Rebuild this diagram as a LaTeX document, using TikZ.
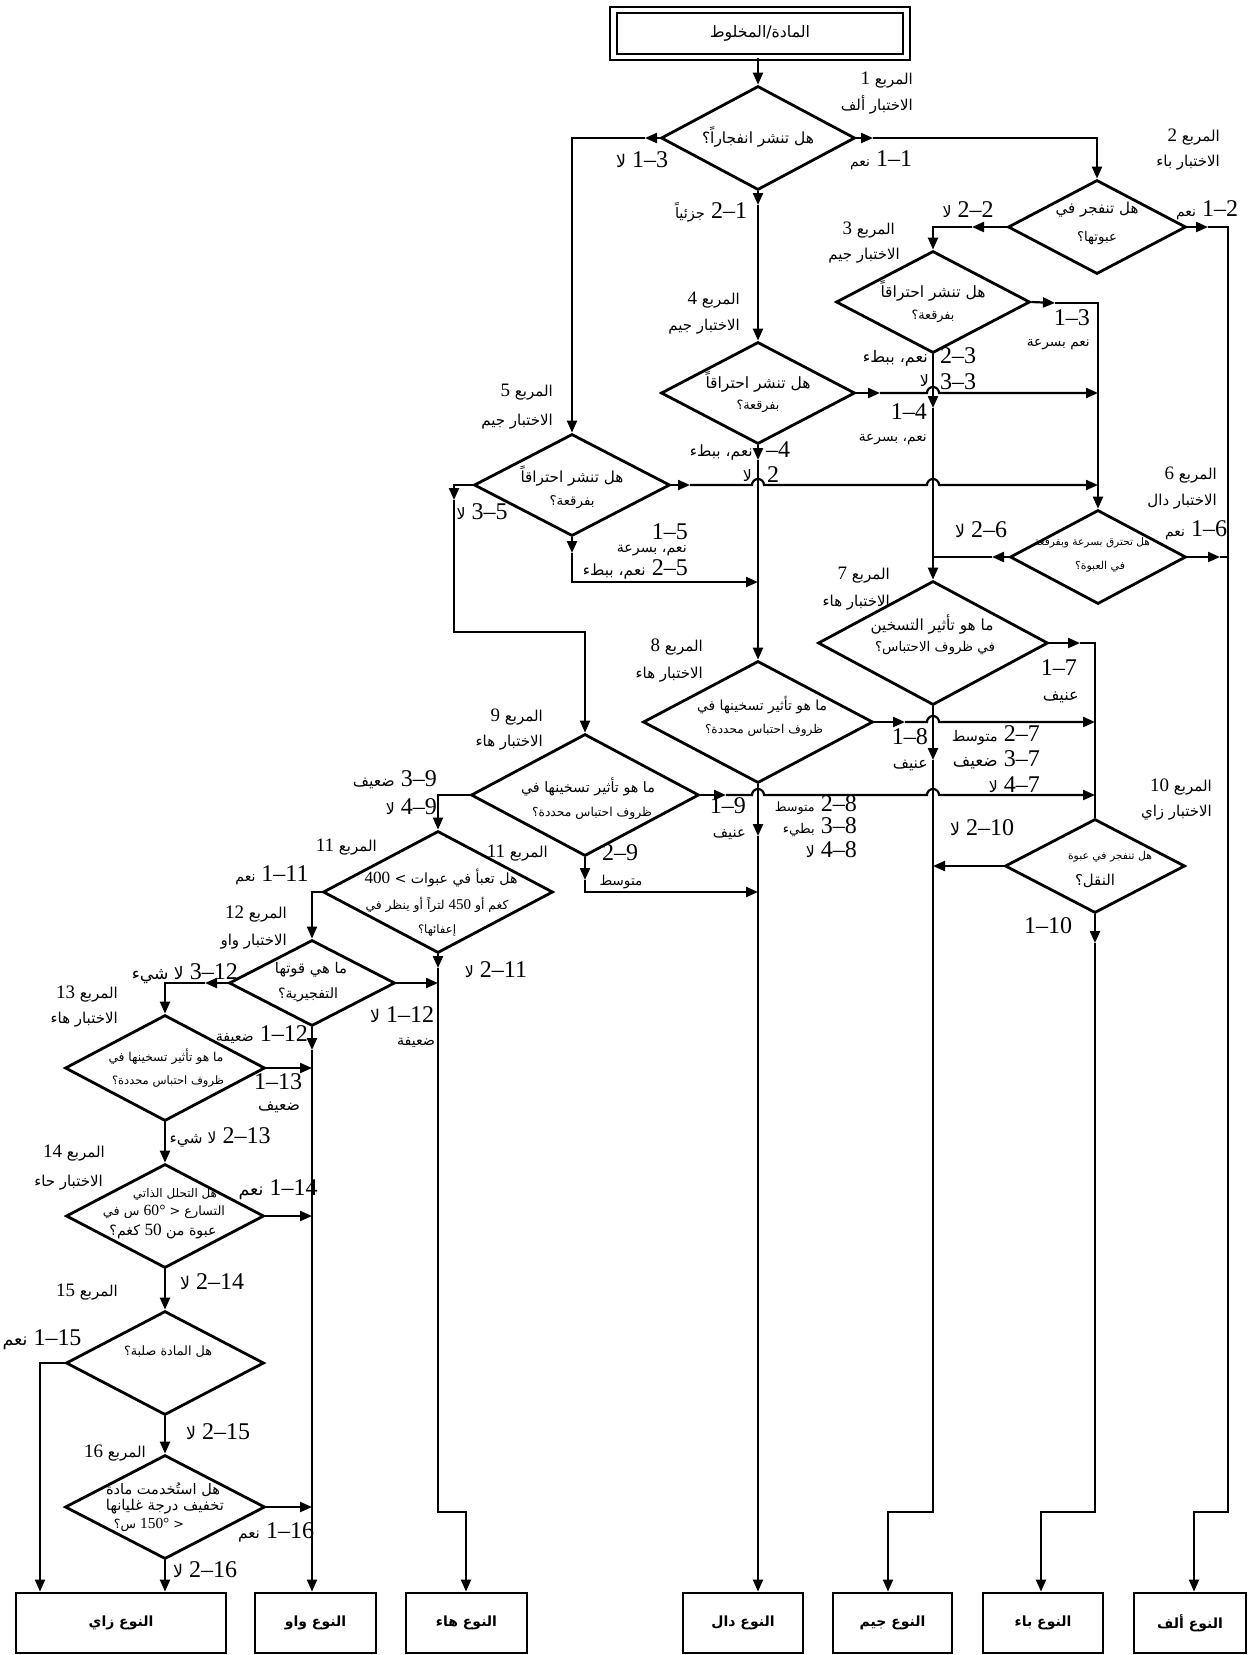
\documentclass[tikz,border=0pt]{standalone}
\usepackage{graphicx}
\usepackage{fontspec}
\setmainfont{Liberation Serif}
\newfontfamily\arfont[Script=Arabic]{DejaVu Sans}
\TeXXeTstate=1
\usetikzlibrary{shapes.geometric,arrows.meta}
\newcommand{\aw}[2]{\resizebox{#1}{!}{\arfont #2}}
\newcommand{\rw}[2]{\resizebox{#1}{!}{#2}}
\newcommand{\dn}[1]{{\rmfamily\fontsize{17}{17}\selectfont #1}}
\newcommand{\bn}[1]{{\rmfamily\fontsize{19}{19}\selectfont #1}}
\begin{document}
\begin{tikzpicture}[x=1pt,y=-1pt,
 ln/.style={line width=2.2pt},
 arr/.style={line width=2.2pt,-{Triangle[length=12pt,width=10pt]}},
 dia/.style={diamond,draw,line width=2.8pt,inner sep=0pt},
 dl/.style={inner sep=0pt,font=\arfont\fontsize{14}{14}\selectfont},
 el/.style={inner sep=0pt,font=\fontsize{24}{25}\selectfont},
 bl/.style={inner sep=0pt,anchor=east,font=\arfont\fontsize{15}{15}\selectfont},
 tbox/.style={draw,line width=2.8pt,minimum height=60pt,inner sep=0pt,font=\arfont\bfseries\fontsize{14}{16}\selectfont}]
\useasboundingbox (0,0) rectangle (1248,1655);
% ---------- source box
\node[draw,double,double distance=4.5pt,line width=2.2pt,minimum width=293pt,minimum height=47pt,inner sep=0pt] (src) at (760,33.5) {\aw{100pt}{\beginR المادة/المخلوط\endR}};
% ---------- diamonds
\node[dia,minimum width=194pt,minimum height=104pt] (d1) at (758,138) {};
\node[dia,minimum width=178pt,minimum height=94pt] (d2) at (1097,227) {};
\node[dia,minimum width=194pt,minimum height=102pt] (d3) at (933,302) {};
\node[dia,minimum width=194pt,minimum height=102pt] (d4) at (758,393) {};
\node[dia,minimum width=196pt,minimum height=102pt] (d5) at (572,485) {};
\node[dia,minimum width=176pt,minimum height=94pt] (d6) at (1098,557) {};
\node[dia,minimum width=230pt,minimum height=124pt] (d7) at (933,643) {};
\node[dia,minimum width=230pt,minimum height=122pt] (d8) at (758,722) {};
\node[dia,minimum width=228pt,minimum height=122pt] (d9) at (585,795) {};
\node[dia,minimum width=180pt,minimum height=94pt] (d10) at (1095,866) {};
\node[dia,minimum width=230pt,minimum height=122pt] (d11) at (438,892) {};
\node[dia,minimum width=166pt,minimum height=86pt] (d12) at (312,983) {};
\node[dia,minimum width=200pt,minimum height=106pt] (d13) at (165,1068) {};
\node[dia,minimum width=198pt,minimum height=104pt] (d14) at (165,1216) {};
\node[dia,minimum width=198pt,minimum height=104pt] (d15) at (165,1363) {};
\node[dia,minimum width=200pt,minimum height=104pt] (d16) at (165,1507) {};
% ---------- diamond texts (one node per line)
\node[dl] (q1) at (758,137) {\aw{112pt}{\beginR هل تنشر انفجاراً؟\endR}};
\node[dl] (q2a) at (1097,210) {\aw{83pt}{\beginR هل تنفجر في\endR}};
\node[dl] (q2b) at (1097,238) {\aw{40pt}{\beginR عبوتها؟\endR}};
\node[dl] (q3a) at (933,291) {\aw{105pt}{\beginR هل تنشر احتراقاً\endR}};
\node[dl] (q3b) at (933,316) {\aw{43pt}{\beginR بفرقعة؟\endR}};
\node[dl] (q4a) at (758,382) {\aw{105pt}{\beginR هل تنشر احتراقاً\endR}};
\node[dl] (q4b) at (758,406) {\aw{43pt}{\beginR بفرقعة؟\endR}};
\node[dl] (q5a) at (572,476) {\aw{103pt}{\beginR هل تنشر احتراقاً\endR}};
\node[dl] (q5b) at (572,502) {\aw{45pt}{\beginR بفرقعة؟\endR}};
\node[dl] (q6a) at (1092,543) {\aw{116pt}{\beginR هل تحترق بسرعة وبفرقعة\endR}};
\node[dl] (q6b) at (1100,567) {\aw{50pt}{\beginR في العبوة؟\endR}};
\node[dl] (q7a) at (932,624) {\aw{123pt}{\beginR ما هو تأثير التسخين\endR}};
\node[dl] (q7b) at (935,648) {\aw{120pt}{\beginR في ظروف الاحتباس؟\endR}};
\node[dl] (q8a) at (762,705) {\aw{130pt}{\beginR ما هو تأثير تسخينها في\endR}};
\node[dl] (q8b) at (764,730) {\aw{118pt}{\beginR ظروف احتباس محددة؟\endR}};
\node[dl] (q9a) at (588,787) {\aw{134pt}{\beginR ما هو تأثير تسخينها في\endR}};
\node[dl] (q9b) at (592,813) {\aw{120pt}{\beginR ظروف احتباس محددة؟\endR}};
\node[dl] (q10a) at (1110,857) {\aw{84pt}{\beginR هل تنفجر في عبوة\endR}};
\node[dl] (q10b) at (1095,881) {\aw{40pt}{\beginR النقل؟\endR}};
\node[dl] (q11a) at (441,878) {\rw{153pt}{\dn{400} > {\arfont\beginR هل تعبأ في عبوات\endR}}};
\node[dl] (q11b) at (437,905) {\rw{143pt}{{\arfont\beginR لتراً أو ينظر في\endR} \dn{450} {\arfont\beginR كغم أو\endR}}};
\node[dl] (q11c) at (437,930) {\aw{38pt}{\beginR إعفائها؟\endR}};
\node[dl] (q12a) at (311,970) {\aw{72pt}{\beginR ما هي قوتها\endR}};
\node[dl] (q12b) at (308,995) {\aw{60pt}{\beginR التفجيرية؟\endR}};
\node[dl] (q13a) at (166,1057) {\aw{115pt}{\beginR ما هو تأثير تسخينها في\endR}};
\node[dl] (q13b) at (168,1082) {\aw{112pt}{\beginR ظروف احتباس محددة؟\endR}};
\node[dl] (q14a) at (175,1194) {\aw{84pt}{\beginR هل التحلل الذاتي\endR}};
\node[dl] (q14b) at (164,1212) {\rw{122pt}{{\arfont\beginR س في\endR} \dn{60°} < {\arfont\beginR التسارع\endR}}};
\node[dl] (q14c) at (163,1231) {\rw{107pt}{{\arfont\beginR كغم؟\endR} \dn{50} {\arfont\beginR عبوة من\endR}}};
\node[dl] (q15) at (168,1352) {\aw{88pt}{\beginR هل المادة صلبة؟\endR}};
\node[dl] (q16a) at (163,1490) {\aw{114pt}{\beginR هل استُخدمت مادة\endR}};
\node[dl] (q16b) at (165,1507) {\aw{118pt}{\beginR تخفيف درجة غليانها\endR}};
\node[dl] (q16c) at (149,1525) {\rw{70pt}{{\arfont\beginR س؟\endR} \dn{150°} <}};
% ---------- type boxes
\node[tbox,minimum width=210pt] (tG) at (121,1623) {\beginR النوع زاي\endR};
\node[tbox,minimum width=121pt] (tF) at (315.5,1623) {\beginR النوع واو\endR};
\node[tbox,minimum width=121pt] (tE) at (466.5,1623) {\beginR النوع هاء\endR};
\node[tbox,minimum width=120pt] (tD) at (743,1623) {\beginR النوع دال\endR};
\node[tbox,minimum width=119pt] (tC) at (892.5,1623) {\beginR النوع جيم\endR};
\node[tbox,minimum width=120pt] (tB) at (1043,1623) {\beginR النوع باء\endR};
\node[tbox,minimum width=112pt] (tA) at (1190,1623) {\beginR النوع ألف\endR};
% ---------- helper coordinates
\coordinate (c1l) at (645,138);
\coordinate (c1r) at (873,138);
\coordinate (c1b) at (758,205);
\coordinate (c2r) at (1208,227);
\coordinate (vA) at (1228,227);
\coordinate (jA) at (1194,1512);
\coordinate (c2l) at (972,227);
\coordinate (c3r) at (1055,303);
\coordinate (c3b) at (933,408);
\coordinate (c4r) at (880,393);
\coordinate (c4b) at (758,460);
\coordinate (c5r) at (690,485);
\coordinate (c5l) at (454,500);
\coordinate (c5j) at (585,632);
\coordinate (c5b) at (572,553);
\coordinate (c6l) at (992,557);
\coordinate (c6r) at (1220,557);
\coordinate (c7r) at (1080,643);
\coordinate (c7b) at (933,760);
\coordinate (jC) at (888,1512);
\coordinate (c8r) at (905,722);
\coordinate (c8b) at (758,836);
\coordinate (c9r) at (726,795);
\coordinate (c9b) at (585,880);
\coordinate (c10b) at (1095,943);
\coordinate (jB) at (1041,1512);
\coordinate (c11b) at (438,968);
\coordinate (jE) at (466,1512);
\coordinate (c12b) at (312,1050);
\coordinate (c12l) at (205,983);
\coordinate (c15l) at (40,1363);
% ---------- connectors
\draw[arr] (src.south -| d1.north) -- (d1.north);
\draw[arr] (d1.west) -- (c1l);
\draw[arr] (c1l) -| (d5.north);
\draw[arr] (d1.east) -- (c1r);
\draw[arr] (c1r) -| (d2.north);
\draw[arr] (d1.south) -- (c1b);
\draw[arr] (c1b) -- (d4.north);
\draw[arr] (d2.east) -- (c2r);
\draw[arr] (c2r) -- (vA) -- (vA |- jA) -- (jA) -- (jA |- tA.north);
\draw[arr] (d2.west) -- (c2l);
\draw[arr] (c2l) -| (d3.north);
\draw[arr] (d3.east) -- (c3r);
\draw[arr] (c3r) -| (d6.north);
\draw[arr] (d3.south) -- (c3b);
\draw[arr] (c3b) -- (d7.north);
\draw[arr] (d4.east) -- (c4r);
\draw[arr] (c4r) -- (927,393) arc[start angle=180,end angle=0,radius=6pt] -- (1098,393);
\draw[arr] (d4.south) -- (c4b);
\draw[arr] (c4b) -- (d8.north);
\draw[arr] (d5.east) -- (c5r);
\draw[arr] (c5r) -- (752,485) arc[start angle=180,end angle=0,radius=6pt] -- (927,485) arc[start angle=180,end angle=0,radius=6pt] -- (1098,485);
\draw[arr] (d5.west) -| (c5l);
\draw[arr] (c5l) |- (c5j) -- (d9.north);
\draw[arr] (d5.south) -- (c5b);
\draw[arr] (c5b) |- (758,582);
\draw[arr] (d6.west) -- (c6l);
\draw[ln] (c6l) -- (933,557);
\draw[arr] (d6.east) -- (c6r);
\draw[ln] (c6r) -- (1228,557);
\draw[arr] (d7.east) -- (c7r);
\draw[ln] (c7r) -| (d10.north);
\draw[arr] (d7.south) -- (c7b);
\draw[arr] (c7b) -- (c7b |- jC) -- (jC) -- (jC |- tC.north);
\draw[arr] (d8.east) -- (c8r);
\draw[arr] (c8r) -- (927,722) arc[start angle=180,end angle=0,radius=6pt] -- (1095,722);
\draw[arr] (d8.south) -- (c8b);
\draw[arr] (c8b) -- (c8b |- tD.north);
\draw[arr] (d9.east) -- (c9r);
\draw[arr] (c9r) -- (752,795) arc[start angle=180,end angle=0,radius=6pt] -- (927,795) arc[start angle=180,end angle=0,radius=6pt] -- (1095,795);
\draw[arr] (d9.west) -| (d11.north);
\draw[arr] (d9.south) -- (c9b);
\draw[arr] (c9b) |- (758,892);
\draw[arr] (d10.west) -- (933,866);
\draw[arr] (d10.south) -- (c10b);
\draw[arr] (c10b) -- (c10b |- jB) -- (jB) -- (jB |- tB.north);
\draw[arr] (d11.west) -| (d12.north);
\draw[arr] (d11.south) -- (c11b);
\draw[arr] (c11b) -- (c11b |- jE) -- (jE) -- (jE |- tE.north);
\draw[arr] (d12.east) -- (438,983);
\draw[arr] (d12.south) -- (c12b);
\draw[arr] (c12b) -- (c12b |- tF.north);
\draw[arr] (d12.west) -- (c12l);
\draw[arr] (c12l) -| (d13.north);
\draw[arr] (d13.east) -- (312,1068);
\draw[arr] (d13.south) -- (d14.north);
\draw[arr] (d14.east) -- (312,1216);
\draw[arr] (d14.south) -- (d15.north);
\draw[arr] (d15.west) -- (c15l) -- (c15l |- tG.north);
\draw[arr] (d15.south) -- (d16.north);
\draw[arr] (d16.east) -- (312,1507);
\draw[arr] (d16.south) -- (d16.south |- tG.north);
% ---------- box labels
\node[bl] (b1a) at (913,80) {\bn{1} \beginR المربع\endR};
\node[bl] (b1b) at (913,105) {\beginR الاختبار ألف\endR};
\node[bl] (b2a) at (1220,137) {\bn{2} \beginR المربع\endR};
\node[bl] (b2b) at (1220,163) {\beginR الاختبار باء\endR};
\node[bl] (b3a) at (895,230) {\bn{3} \beginR المربع\endR};
\node[bl] (b3b) at (900,256) {\beginR الاختبار جيم\endR};
\node[bl] (b4a) at (740,300) {\bn{4} \beginR المربع\endR};
\node[bl] (b4b) at (740,327) {\beginR الاختبار جيم\endR};
\node[bl] (b5a) at (553,392) {\bn{5} \beginR المربع\endR};
\node[bl] (b5b) at (553,422) {\beginR الاختبار جيم\endR};
\node[bl] (b6a) at (1217,475) {\bn{6} \beginR المربع\endR};
\node[bl] (b6b) at (1217,502) {\beginR الاختبار دال\endR};
\node[bl] (b7a) at (890,575) {\bn{7} \beginR المربع\endR};
\node[bl] (b7b) at (890,603) {\beginR الاختبار هاء\endR};
\node[bl] (b8a) at (703,647) {\bn{8} \beginR المربع\endR};
\node[bl] (b8b) at (703,675) {\beginR الاختبار هاء\endR};
\node[bl] (b9a) at (543,717) {\bn{9} \beginR المربع\endR};
\node[bl] (b9b) at (543,743) {\beginR الاختبار هاء\endR};
\node[bl] (b10a) at (1212,787) {\bn{10} \beginR المربع\endR};
\node[bl] (b10b) at (1212,813) {\beginR الاختبار زاي\endR};
\node[bl] (b11a) at (377,847) {\bn{11} \beginR المربع\endR};
\node[bl] (b11b) at (548,853) {\bn{11} \beginR المربع\endR};
\node[bl] (b12a) at (287,914) {\bn{12} \beginR المربع\endR};
\node[bl] (b12b) at (287,942) {\beginR الاختبار واو\endR};
\node[bl] (b13a) at (118,994) {\bn{13} \beginR المربع\endR};
\node[bl] (b13b) at (118,1020) {\beginR الاختبار هاء\endR};
\node[bl] (b14a) at (105,1153) {\bn{14} \beginR المربع\endR};
\node[bl] (b14b) at (103,1183) {\beginR الاختبار حاء\endR};
\node[bl] (b15a) at (118,1292) {\bn{15} \beginR المربع\endR};
\node[bl] (b16a) at (146,1453) {\bn{16} \beginR المربع\endR};
% ---------- edge labels
\node[el] (e13) at (642,160) {\aw{10pt}{\beginR لا\endR} 1–3};
\node[el] (e11) at (881,160) {\aw{20pt}{\beginR نعم\endR} 1–1};
\node[el] (e21) at (711,212) {\aw{30pt}{\beginR جزئياً\endR} 2–1};
\node[el] (e12) at (1207,210) {\aw{20pt}{\beginR نعم\endR} 1–2};
\node[el] (e22) at (968,210) {\aw{9pt}{\beginR لا\endR} 2–2};
\node[el,anchor=east] (e31a) at (1090,318) {1–3};
\node[el,anchor=east] (e31b) at (1090,345) {\aw{63pt}{\beginR نعم بسرعة\endR}};
\node[el,anchor=east] (e32a) at (928,358) {\aw{65pt}{\beginR نعم، ببطء\endR}};
\node[el,anchor=west] (e32b) at (940,356) {2–3};
\node[el,anchor=east] (e33a) at (929,381) {\aw{9pt}{\beginR لا\endR}};
\node[el,anchor=west] (e33b) at (940,382) {3–3};
\node[el,anchor=east] (e41a) at (927,412) {1–4};
\node[el,anchor=east] (e41b) at (927,440) {\aw{68pt}{\beginR نعم، بسرعة\endR}};
\node[el,anchor=east] (e42a) at (753,452) {\aw{63pt}{\beginR نعم، ببطء\endR}};
\node[el,anchor=west] (e42b) at (766,450) {–4};
\node[el,anchor=east] (e42c) at (752,476) {\aw{9pt}{\beginR لا\endR}};
\node[el,anchor=west] (e42d) at (767,475) {2};
\node[el] (e53) at (482,512) {\aw{9pt}{\beginR لا\endR} 3–5};
\node[el,anchor=east] (e51a) at (688,532) {1–5};
\node[el,anchor=east] (e51b) at (687,551) {\aw{70pt}{\beginR نعم، بسرعة\endR}};
\node[el,anchor=east] (e52) at (688,569) {\aw{63pt}{\beginR نعم، ببطء\endR} 2–5};
\node[el] (e61) at (1196,530) {\aw{20pt}{\beginR نعم\endR} 1–6};
\node[el] (e62) at (981,530) {\aw{10pt}{\beginR لا\endR} 2–6};
\node[el,anchor=east] (e71a) at (1077,668) {1–7};
\node[el,anchor=east] (e71b) at (1079,697) {\aw{36pt}{\beginR عنيف\endR}};
\node[el,anchor=east] (e72) at (1040,735) {\aw{46pt}{\beginR متوسط\endR} 2–7};
\node[el,anchor=east] (e73) at (1040,760) {\aw{45pt}{\beginR ضعيف\endR} 3–7};
\node[el,anchor=east] (e74) at (1040,785) {\aw{9pt}{\beginR لا\endR} 4–7};
\node[el,anchor=east] (e81a) at (928,737) {1–8};
\node[el,anchor=east] (e81b) at (928,765) {\aw{35pt}{\beginR عنيف\endR}};
\node[el,anchor=east] (e82) at (857,805) {\aw{40pt}{\beginR متوسط\endR} 2–8};
\node[el,anchor=east] (e83) at (857,827) {\aw{32pt}{\beginR بطيء\endR} 3–8};
\node[el,anchor=east] (e84) at (857,850) {\aw{9pt}{\beginR لا\endR} 4–8};
\node[el,anchor=east] (e91a) at (746,806) {1–9};
\node[el,anchor=east] (e91b) at (746,835) {\aw{33pt}{\beginR عنيف\endR}};
\node[el] (e92a) at (620,853) {2–9};
\node[el] (e92b) at (621,882) {\aw{43pt}{\beginR متوسط\endR}};
\node[el,anchor=east] (e93) at (437,780) {\aw{42pt}{\beginR ضعيف\endR} 3–9};
\node[el,anchor=east] (e94) at (437,807) {\aw{9pt}{\beginR لا\endR} 4–9};
\node[el] (e102) at (982,828) {\aw{10pt}{\beginR لا\endR} 2–10};
\node[el] (e101) at (1048,926) {1–10};
\node[el] (e111) at (272,875) {\aw{20pt}{\beginR نعم\endR} 1–11};
\node[el] (e112) at (496,970) {\aw{9pt}{\beginR لا\endR} 2–11};
\node[el] (e121a) at (402,1015) {\aw{10pt}{\beginR لا\endR} 1–12};
\node[el] (e121b) at (416,1043) {\aw{38pt}{\beginR ضعيفة\endR}};
\node[el,anchor=east] (e121c) at (308,1035) {\aw{38pt}{\beginR ضعيفة\endR} 1–12};
\node[el,anchor=east] (e123) at (238,974) {\aw{52pt}{\beginR لا شيء\endR} 3–12};
\node[el] (e131a) at (278,1082) {1–13};
\node[el] (e131b) at (279,1107) {\aw{42pt}{\beginR ضعيف\endR}};
\node[el] (e132) at (220,1137) {\aw{47pt}{\beginR لا شيء\endR} 2–13};
\node[el] (e141) at (278,1190) {\aw{25pt}{\beginR نعم\endR} 1–14};
\node[el] (e142) at (212,1282) {\aw{10pt}{\beginR لا\endR} 2–14};
\node[el] (e151) at (42,1340) {\aw{25pt}{\beginR نعم\endR} 1–15};
\node[el] (e152) at (218,1432) {\aw{10pt}{\beginR لا\endR} 2–15};
\node[el] (e161) at (276,1532) {\aw{22pt}{\beginR نعم\endR} 1–16};
\node[el] (e162) at (205,1570) {\aw{10pt}{\beginR لا\endR} 2–16};
\end{tikzpicture}
\end{document}
